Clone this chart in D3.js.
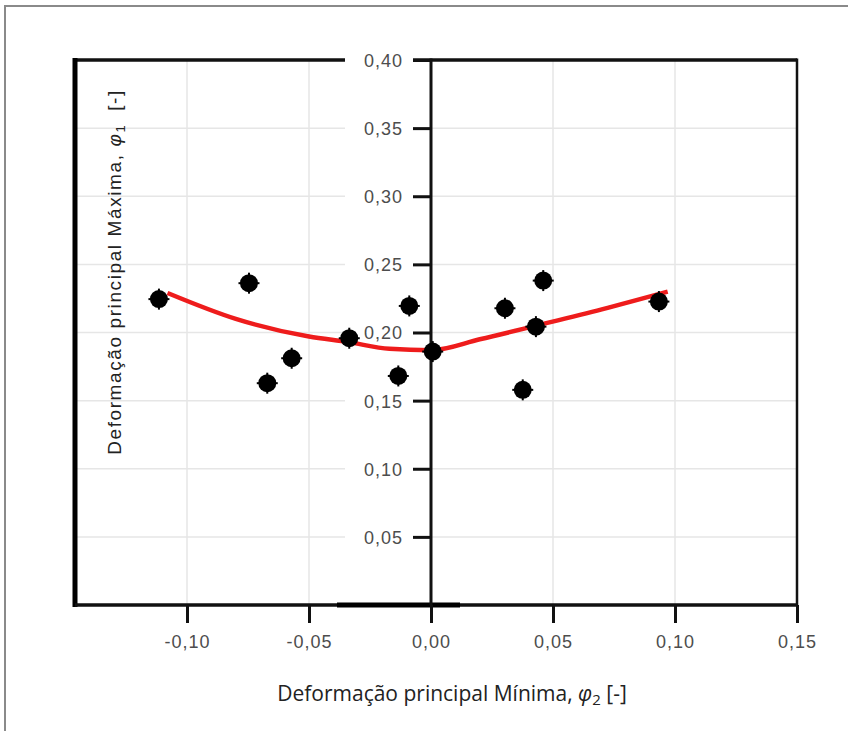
<!DOCTYPE html>
<html>
<head>
<meta charset="utf-8">
<script src="https://cdn.jsdelivr.net/npm/d3@7"></script>
<style>
  body { margin: 0; background: #fff; }
  .tick text { font-family: "Liberation Sans", Arial, sans-serif; font-size: 18px; fill: #4d4d4d; letter-spacing: 1px; }
</style>
</head>
<body>
<div class="chart"></div>
<script>
// measured points (phi2, phi1)
const phi2 = [-0.1115, -0.0746, -0.0671, -0.0571, -0.0335, -0.0134, -0.0089, 0.0007, 0.0303, 0.0376, 0.0430, 0.0460, 0.0934];
const phi1 = [0.2245, 0.2362, 0.1628, 0.1811, 0.1958, 0.1681, 0.2195, 0.1860, 0.2178, 0.1579, 0.2043, 0.2381, 0.2227];

// red fit curve
const fitX = [-0.108, -0.080, -0.050, -0.034, -0.017, 0.000, 0.020, 0.043, 0.070, 0.097];
const fitY = [0.229, 0.210, 0.197, 0.193, 0.188, 0.187, 0.195, 0.205, 0.217, 0.230];

const xTicks = [-0.10, -0.05, 0.00, 0.05, 0.10, 0.15];
const yTicks = [0.05, 0.10, 0.15, 0.20, 0.25, 0.30, 0.35, 0.40];
const xGrid = [-0.10, -0.05, 0.05, 0.10];
const yGrid = [0.05, 0.10, 0.15, 0.20, 0.25, 0.30, 0.35];

const svgWidth = 848;
const svgHeight = 731;
const plotLeft = 75, plotRight = 797, plotTop = 60, plotBottom = 605;

const locale = d3.formatLocale({ decimal: ",", thousands: ".", grouping: [3], currency: ["", ""], minus: "-" });
const fmt = locale.format(".2f");

const svg = d3.select('.chart')
    .append('svg')
    .attr('width', svgWidth)
    .attr('height', svgHeight);

// outer border
svg.append('rect')
    .attr('x', 5).attr('y', 6)
    .attr('width', 900).attr('height', 900)
    .attr('fill', 'none')
    .attr('stroke', '#8a8a8a')
    .attr('stroke-width', 2);

const x = d3.scaleLinear().domain([-0.1459, 0.15]).range([plotLeft, plotRight]);
const y = d3.scaleLinear().domain([0, 0.40]).range([plotBottom, plotTop]);

// grid
svg.selectAll('.vgrid')
    .data(xGrid)
    .enter()
    .append('line')
    .attr('x1', d => x(d)).attr('x2', d => x(d))
    .attr('y1', plotTop).attr('y2', plotBottom)
    .attr('stroke', '#e6e6e6').attr('stroke-width', 1.5);

svg.selectAll('.hgrid')
    .data(yGrid)
    .enter()
    .append('line')
    .attr('x1', plotLeft).attr('x2', plotRight)
    .attr('y1', d => y(d)).attr('y2', d => y(d))
    .attr('stroke', '#e6e6e6').attr('stroke-width', 1.5);

// frame
svg.append('line').attr('x1', plotLeft).attr('x2', plotRight).attr('y1', plotTop).attr('y2', plotTop)
    .attr('stroke', '#111').attr('stroke-width', 3.5);
svg.append('line').attr('x1', plotRight).attr('x2', plotRight).attr('y1', plotTop - 1.5).attr('y2', plotBottom)
    .attr('stroke', '#111').attr('stroke-width', 2.5);
svg.append('line').attr('x1', plotLeft).attr('x2', plotLeft).attr('y1', plotTop - 2).attr('y2', plotBottom + 2)
    .attr('stroke', '#000').attr('stroke-width', 5);
svg.append('line').attr('x1', plotLeft).attr('x2', plotRight + 1).attr('y1', plotBottom).attr('y2', plotBottom)
    .attr('stroke', '#111').attr('stroke-width', 3.5);
svg.append('line').attr('x1', 337).attr('x2', 460).attr('y1', plotBottom).attr('y2', plotBottom)
    .attr('stroke', '#000').attr('stroke-width', 5);

// white label box behind y tick labels
svg.append('rect')
    .attr('x', 345).attr('y', plotTop - 8)
    .attr('width', x(0) - 18 - 345).attr('height', plotBottom - plotTop)
    .attr('fill', '#fff');

// x axis
const xAxis = svg.append('g')
    .attr('transform', `translate(0,${plotBottom})`)
    .call(d3.axisBottom(x).tickValues(xTicks).tickSize(18).tickPadding(12).tickFormat(fmt));
xAxis.select('.domain').remove();
xAxis.selectAll('.tick line').attr('stroke', '#111').attr('stroke-width', 3);

// y axis
const yAxis = svg.append('g')
    .attr('transform', `translate(${x(0)},0)`)
    .call(d3.axisLeft(y).tickValues(yTicks).tickSize(18).tickPadding(10).tickFormat(fmt));
yAxis.select('.domain').remove();
yAxis.selectAll('.tick line').attr('stroke', '#111').attr('stroke-width', 3);
yAxis.selectAll('.tick text').attr('dy', '0.36em');

svg.append('line')
    .attr('x1', x(0)).attr('x2', x(0))
    .attr('y1', plotTop - 1.5).attr('y2', plotBottom)
    .attr('stroke', '#111').attr('stroke-width', 3);

// fit curve
const line = d3.line()
    .x((d, i) => x(fitX[i]))
    .y(d => y(d))
    .curve(d3.curveMonotoneX);

svg.append('path')
    .datum(fitY)
    .attr('d', line)
    .attr('fill', 'none')
    .attr('stroke', '#ee1c1c')
    .attr('stroke-width', 4.5);

// points
const pts = svg.selectAll('.pt')
    .data(phi2)
    .enter()
    .append('g')
    .attr('transform', (d, i) => `translate(${x(d)},${y(phi1[i])})`);

pts.append('circle').attr('r', 9).attr('fill', '#000');
pts.append('line').attr('x1', -10.5).attr('x2', 10.5).attr('y1', 0).attr('y2', 0)
    .attr('stroke', '#000').attr('stroke-width', 2);
pts.append('line').attr('x1', 0).attr('x2', 0).attr('y1', -10.5).attr('y2', 10.5)
    .attr('stroke', '#000').attr('stroke-width', 2);

// axis titles
const xt = svg.append('text')
    .attr('x', 452).attr('y', 701)
    .attr('text-anchor', 'middle')
    .style('font-family', '"Open Sans", "Noto Sans", sans-serif')
    .style('font-size', '21px')
    .attr('fill', '#222');
xt.append('tspan').text('Deformação principal Mínima, ');
xt.append('tspan').text('φ').style('font-style', 'italic');
xt.append('tspan').text('2').attr('dy', 4).style('font-size', '15px');
xt.append('tspan').text(' [-]').attr('dy', -4);

const yt = svg.append('text')
    .attr('transform', 'translate(121,272) rotate(-90)')
    .attr('text-anchor', 'middle')
    .style('font-family', '"Liberation Sans", Arial, sans-serif')
    .style('font-size', '19px')
    .style('letter-spacing', '1.6px')
    .attr('fill', '#222');
yt.append('tspan').text('Deformação principal Máxima, ');
yt.append('tspan').text('φ').style('font-style', 'italic');
yt.append('tspan').text('1').attr('dy', 4).style('font-size', '13px');
yt.append('tspan').text(' [-]').attr('dy', -4).attr('dx', 6);
</script>
</body>
</html>
